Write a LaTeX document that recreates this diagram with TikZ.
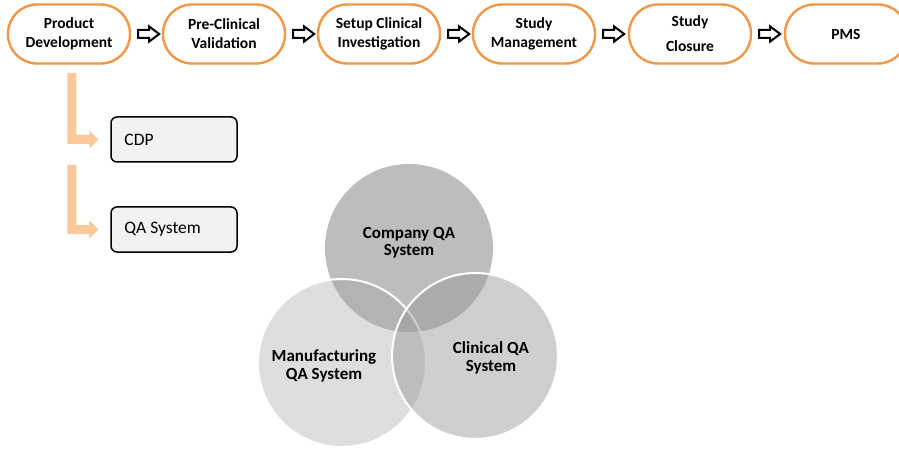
\documentclass[tikz,border=0pt]{standalone}
\usepackage{fontspec}
\setmainfont{Carlito}
\usetikzlibrary{calc}
\definecolor{pillorange}{RGB}{240,152,72}
\definecolor{peach}{RGB}{251,200,154}
\definecolor{boxgray}{RGB}{242,242,242}
\definecolor{ctop}{RGB}{189,189,189}
\definecolor{cman}{RGB}{161,161,161}
\definecolor{ccli}{RGB}{153,153,153}
\tikzset{
  pill/.style={draw=pillorange, line width=2.4pt, fill=white, rounded corners=29pt,
    minimum width=122pt, minimum height=59pt, inner sep=0pt, align=center,
    font=\fontsize{15.5}{19}\selectfont\bfseries},
  blockarrow/.style={draw=black, line width=2pt, fill=white, line join=miter},
  larrow/.style={fill=peach, draw=none},
  sidebox/.style={draw=black, line width=1.5pt, fill=boxgray, rounded corners=6pt,
    minimum width=126pt, minimum height=45pt, inner sep=0pt},
  sidetext/.style={anchor=west, inner sep=0pt, font=\fontsize{17.5}{20}\selectfont},
  circtext/.style={align=center, inner sep=0pt, font=\fontsize{17}{17.5}\selectfont\bfseries},
}
\begin{document}
\begin{tikzpicture}[x=1pt,y=1pt]
\clip (0,0) rectangle (899,-449);
\fill[white] (0,0) rectangle (899,-449);
% top row
\node[pill] (b1) at (69,-34) {Product\\Development};
\node[pill] (b2) at (224,-34) {Pre-Clinical\\Validation};
\node[pill] (b3) at (379,-34) {Setup Clinical\\Investigation};
\node[pill] (b4) at (534,-34) {Study\\Management};
\node[pill, font=\fontsize{15.5}{25}\selectfont\bfseries] (b5) at (690,-34) {Study\\Closure};
\node[pill] (b6) at (846,-34) {PMS};
% block arrows
\foreach \a/\b in {b1/b2,b2/b3,b3/b4,b4/b5,b5/b6}{
  \draw[blockarrow] ($(\a.east)+(7,4)$) -- ++(11,0) -- ++(0,3.5) -- ++(10,-7.5)
    -- ++(-10,-7.5) -- ++(0,3.5) -- ++(-11,0) -- cycle;
}
% side boxes
\node[sidebox] (cdp) at (174,-139.5) {};
\node[sidetext] (cdpt) at ($(cdp.west)+(14,0)$) {CDP};
\node[sidebox] (qa) at (174,-229.5) {};
\node[sidetext] (qat) at ($(qa.west)+(14,0)$) {QA System};
% L arrows
\coordinate (t1) at ($(cdp.west)+(-12,0)$);
\fill[larrow] (t1) -- ++(-9,9) -- ++(0,-4.5) -- ++(-13,0) -- ++(0,62) -- ++(-9,0)
  -- ++(0,-71) -- ++(22,0) -- ++(0,-4.5) -- cycle;
\coordinate (t2) at ($(qa.west)+(-12,0)$);
\fill[larrow] (t2) -- ++(-9,9) -- ++(0,-4.5) -- ++(-13,0) -- ++(0,60) -- ++(-9,0)
  -- ++(0,-69) -- ++(22,0) -- ++(0,-4.5) -- cycle;
% circles
\fill[ctop] (409,-248) circle (84);
\path[fill=cman, fill opacity=0.35, draw=white, line width=2pt, draw opacity=1] (342,-363) circle (84);
\path[fill=ccli, fill opacity=0.47, draw=white, line width=2pt, draw opacity=1] (475,-356) circle (83);
\node[circtext] (ct) at (409,-243) {Company QA\\System};
\node[circtext] (mt) at (324,-366) {Manufacturing\\QA System};
\node[circtext] (clt) at (491,-358) {Clinical QA\\System};
\end{tikzpicture}
\end{document}
